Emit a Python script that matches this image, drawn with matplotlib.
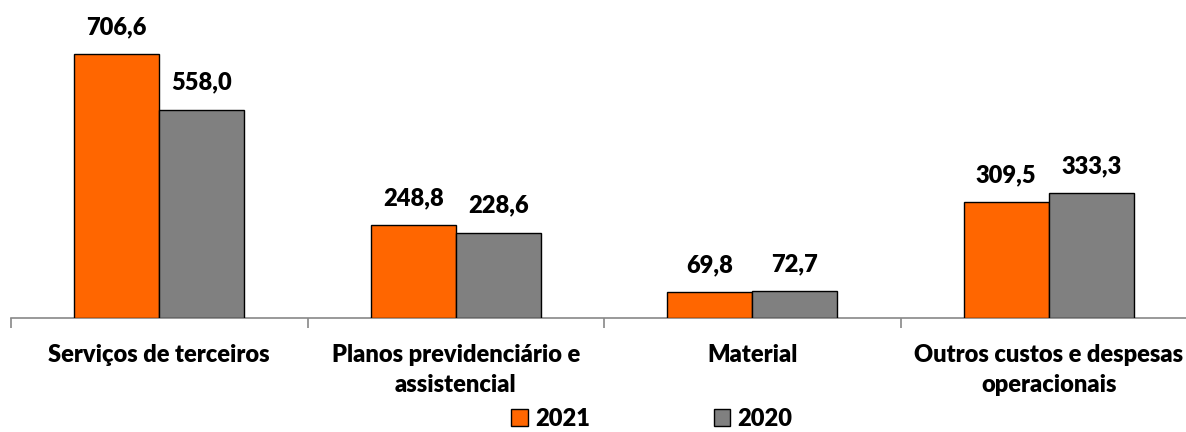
import matplotlib
matplotlib.use("Agg")
import matplotlib.pyplot as plt
import numpy as np
from matplotlib.patches import Patch

categories = ["Serviços de terceiros", "Planos previdenciário e\nassistencial", "Material",
              "Outros custos e despesas\noperacionais"]
series_names = ["2021", "2020"]
values_2021 = [706.6, 248.8, 69.8, 309.5]
values_2020 = [558.0, 228.6, 72.7, 333.3]
colors = ["#FF6600", "#808080"]

plt.rcParams['font.family'] = ['Lato', 'DejaVu Sans']
WEIGHT = "heavy"

W, H = 1186, 432
fig = plt.figure(figsize=(W / 100, H / 100), dpi=100)
ax_left, ax_right = 11, 1197
ax_bottom_px, ax_top_px = 318, 0
ax = fig.add_axes([ax_left / W, (H - ax_bottom_px) / H, (ax_right - ax_left) / W,
                   (ax_bottom_px - ax_top_px) / H])

x = np.arange(len(categories))
bw = 0.287
b1 = ax.bar(x - bw / 2, values_2021, bw, color=colors[0], edgecolor="black", linewidth=1, zorder=3)
b2 = ax.bar(x + bw / 2, values_2020, bw, color=colors[1], edgecolor="black", linewidth=1, zorder=3)

for bars, vals in ((b1, values_2021), (b2, values_2020)):
    for r, v in zip(bars, vals):
        ax.annotate(f"{v:.1f}".replace(".", ","), (r.get_x() + r.get_width() / 2, v),
                    xytext=(0, 11.5), textcoords="offset points", ha="center", va="bottom",
                    fontsize=17, fontweight=WEIGHT)

ax.set_xlim(-0.5, len(categories) - 0.5)
ax.set_ylim(0, 318 / 0.3736)
for s in ["top", "right", "left"]:
    ax.spines[s].set_visible(False)
ax.spines["bottom"].set_color("#888888")
ax.spines["bottom"].set_linewidth(1.2)
ax.set_yticks([])
ax.set_xticks(np.arange(len(categories) + 1) - 0.5, minor=False)
ax.set_xticklabels([])
ax.tick_params(axis="x", which="major", length=7, width=1.2, color="#888888", direction="out")
ax.set_xticks(x, minor=True)
ax.set_xticklabels(categories, minor=True, fontsize=17, fontweight=WEIGHT, linespacing=1.45)
ax.tick_params(axis="x", which="minor", length=0, pad=19)

handles = [Patch(facecolor=colors[0], edgecolor="black"), Patch(facecolor=colors[1], edgecolor="black")]
fig.legend(handles, series_names, loc="center", bbox_to_anchor=(652 / W, (H - 419) / H), ncol=2,
           frameon=False, prop={"size": 17, "weight": WEIGHT}, handlelength=0.7, handleheight=0.7,
           handletextpad=0.3, columnspacing=5.25, borderpad=0)

fig.savefig("out.png", dpi=100)
